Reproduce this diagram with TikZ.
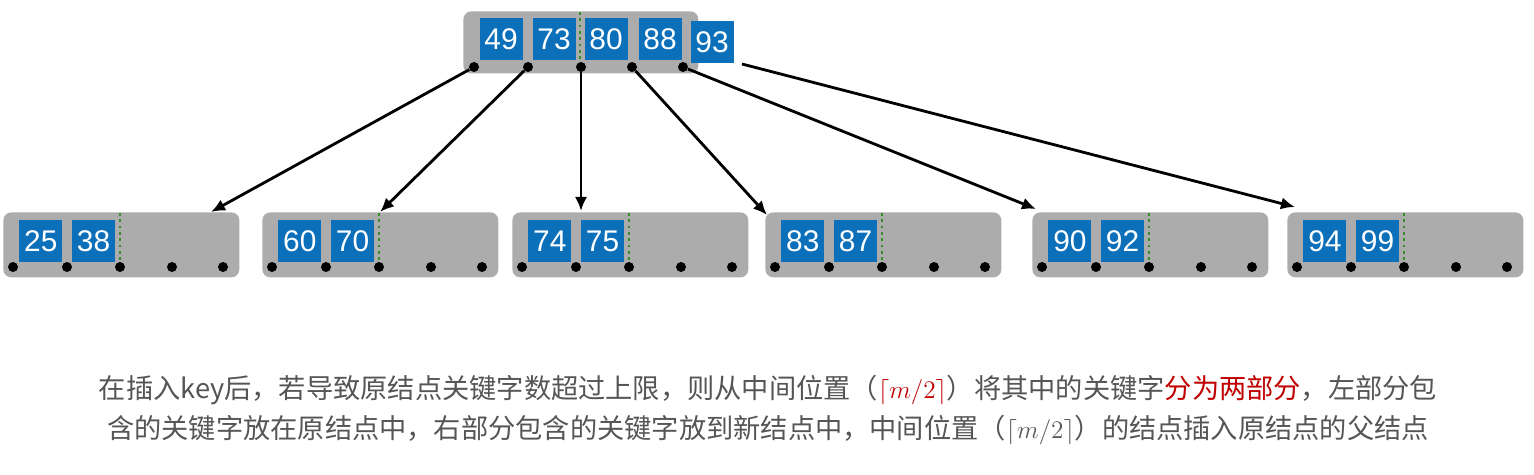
\documentclass[tikz,border=0pt]{standalone}
\usepackage{fontspec}
\setmainfont{Liberation Sans}
\newfontfamily\cjk{Noto Sans CJK SC}
\usetikzlibrary{arrows.meta,positioning}
\definecolor{nodegray}{HTML}{ACACAC}
\definecolor{keyblue}{HTML}{0B6FBA}
\definecolor{midgreen}{HTML}{3A8A2E}
\definecolor{txtgray}{HTML}{555555}
\definecolor{hlred}{HTML}{C00000}
\tikzset{
  bnode/.style={rectangle,rounded corners=4.5pt,fill=nodegray,
                minimum width=4.72cm,minimum height=1.3cm,
                anchor=north west,inner sep=0pt},
  keybox/.style={rectangle,fill=keyblue,minimum width=0.86cm,
                 minimum height=0.84cm,inner sep=0pt,
                 font=\fontsize{17}{17}\selectfont,text=white},
  ptr/.style={circle,fill=black,minimum size=0.2cm,inner sep=0pt},
  mid/.style={draw=midgreen,line width=1.6pt,dotted},
  arr/.style={-{Latex[length=8pt,width=7pt]},line width=1.6pt},
  note/.style={font=\cjk\fontsize{15.5}{22.5}\selectfont,text=txtgray,
               align=center},
}
\begin{document}
\begin{tikzpicture}[x=0.02cm,y=-0.02cm]
  \useasboundingbox (0,0) rectangle (1534,474);

  % root node (overflowing)
  \node[bnode,minimum width=4.7cm,minimum height=1.24cm] (top) at (463,11) {};
  \foreach \k/\x [count=\i] in {49/501,73/554,80/606,88/660}
    \node[keybox] (tk\i) at (\x,39) {\k};
  \node[keybox] (tk5) at (712,42) {93};
  \draw[mid] (580,12) -- (580,67);
  \foreach \x [count=\i] in {474,528,581,632,683}
    \node[ptr] (tp\i) at (\x,67) {};

  % children
  \foreach \n/\x/\a/\b in {1/3/25/38,2/262/60/70,3/512/74/75,
                           4/765/83/87,5/1032/90/92,6/1287/94/99}{
    \node[bnode] (c\n) at (\x,212) {};
    \node[keybox,anchor=north west] (c\n-k1) at (\x+16,220) {\a};
    \node[keybox,right=0.18cm of c\n-k1] (c\n-k2) {\b};
    \draw[mid] (\x+117,213) -- (\x+117,267);
    \foreach \d [count=\j] in {10,64,117,169,220}
      \node[ptr] (c\n-p\j) at (\x+\d,267) {};
  }

  \coordinate (s6) at (742,64);
  \coordinate (e1) at (211,212);
  \coordinate (e2) at (380,212);
  \coordinate (e3) at (581,211);
  \coordinate (e4) at (767,215);
  \coordinate (e5) at (1036,209);
  \coordinate (e6) at (1295,207);

  \foreach \i/\j in {tp1/e1,tp2/e2,tp3/e3,tp4/e4,tp5/e5,s6/e6}
    \draw[arr] (\i) -- (\j);

  \node[note] (cap) at (768,410)
    {在插入key后，若导致原结点关键字数超过上限，则从中间位置（\textcolor{hlred}{$\lceil m/2\rceil$}）将其中的关键字\textcolor{hlred}{分为两部分}，左部分包\\
     含的关键字放在原结点中，右部分包含的关键字放到新结点中，中间位置（$\lceil m/2\rceil$）的结点插入原结点的父结点};
\end{tikzpicture}
\end{document}
